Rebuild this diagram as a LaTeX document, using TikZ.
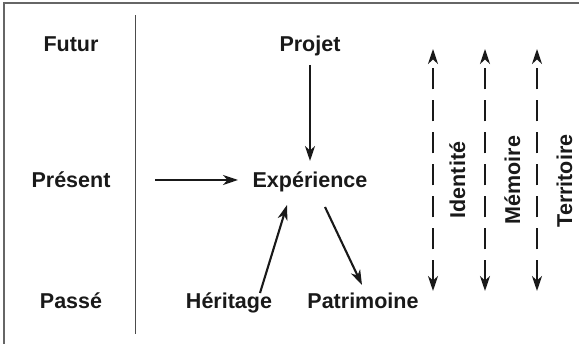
\documentclass[tikz,border=0pt]{standalone}
\usepackage{fontspec}
\setmainfont{Liberation Sans}
\usetikzlibrary{arrows.meta}
\begin{document}
\begin{tikzpicture}[x=1pt,y=1pt,font=\fontsize{21.5}{26}\selectfont\bfseries]
        \tikzstyle{label}=[inner sep=0pt,anchor=base,text=black!90]
        \tikzstyle{side}=[label,rotate=90]
        \tikzstyle{edge}=[draw,line width=2.1pt,black!90,-{Stealth[length=15pt,width=10pt,inset=4.5pt]}]
        \tikzstyle{axis}=[draw,line width=2pt,black!90,dash pattern=on 21pt off 11pt,{Stealth[length=15pt,width=10pt,inset=4.5pt]}-{Stealth[length=15pt,width=10pt,inset=4.5pt]}]
        \useasboundingbox (0,0) rectangle (579,344);
       \begin{scope}
         % cadre et separation
         \draw[black!60,line width=1.2pt] (4,-5) -- (4,341) -- (585,341);
         \draw[black!70,line width=1pt] (135,10) -- (135,329);

         \node [label] (futur) at (71,292) {Futur};
         \node [label] (present) at (71,156) {Présent};
         \node [label] (passe) at (71,35) {Passé};

         \node [label] (projet) at (310,292) {Projet};
         \node [label] (exp) at (310,156) {Expérience};
         \node [label] (herit) at (229,35) {Héritage};
         \node [label] (patri) at (363,35) {Patrimoine};

         \path[edge] ([shift={(0,-13)}]projet.base) -- ([shift={(0,27)}]exp.base);
         \path[edge] ([shift={(84,8)}]present.base) -- ([shift={(-72,8)}]exp.base);
         \path[edge] ([shift={(31,16)}]herit.base) -- ([shift={(-23,-17)}]exp.base);
         \path[edge] ([shift={(15,-19)}]exp.base) -- ([shift={(-1,24)}]patri.base);

         \coordinate (idtop) at (433,295);
         \coordinate (idbot) at (433,53);
         \coordinate (memtop) at (485,295);
         \coordinate (membot) at (485,53);
         \coordinate (tertop) at (537,295);
         \coordinate (terbot) at (537,53);
         \path[axis] (idbot) -- (idtop);
         \path[axis] (membot) -- (memtop);
         \path[axis] (terbot) -- (tertop);

         \node [side] (ident) at (465,164) {Identité};
         \node [side] (memoire) at (520,164) {Mémoire};
         \node [side] (territ) at (572,163) {Territoire};
        \end{scope}
      \end{tikzpicture}
\end{document}
